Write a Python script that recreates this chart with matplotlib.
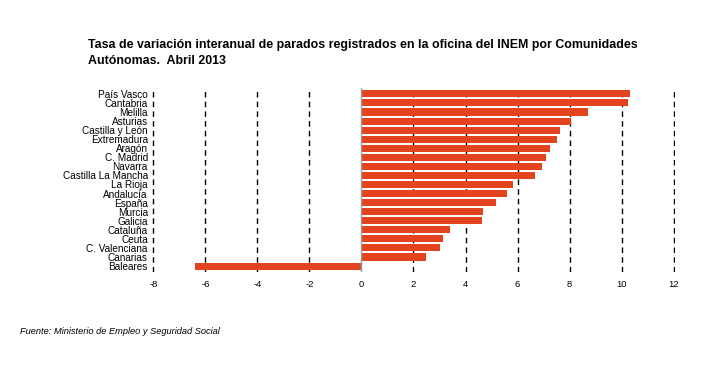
import matplotlib
matplotlib.use("Agg")
import matplotlib.pyplot as plt

plt.rcParams["font.family"] = ["Liberation Sans", "DejaVu Sans"]
plt.rcParams["hatch.color"] = "#F58A3C"
plt.rcParams["hatch.linewidth"] = 0.6

# Datos (tasa de variacion interanual, %)
comunidades = ["País Vasco", "Cantabria", "Melilla", "Asturias", "Castilla y León",
               "Extremadura", "Aragón", "C. Madrid", "Navarra", "Castilla La Mancha",
               "La Rioja", "Andalucía", "España", "Murcia", "Galicia", "Cataluña",
               "Ceuta", "C. Valenciana", "Canarias", "Baleares"]
valores = [10.32, 10.23, 8.70, 8.05, 7.63, 7.52, 7.25, 7.10, 6.94, 6.67,
           5.83, 5.60, 5.18, 4.69, 4.65, 3.39, 3.12, 3.01, 2.47, -6.40]
ticks_x = [-8, -6, -4, -2, 0, 2, 4, 6, 8, 10, 12]

fig = plt.figure(figsize=(7.06, 3.68), dpi=100)
ax = fig.add_axes([0.2153, 0.261, 0.7407, 0.5])

pos = list(range(len(comunidades)))[::-1]

# lineas verticales discontinuas
for t in ticks_x:
    if t == 0:
        ax.axvline(t, color="#999999", lw=1.0, zorder=3)
    else:
        ax.axvline(t, color="black", lw=1.0, ls=(0, (4, 3)), zorder=1)

ax.barh(pos, valores, height=0.78, color="#E3441E", edgecolor="#E3441E",
        hatch="....", lw=0, zorder=2)

ax.set_xlim(-8.05, 12.05)
ax.set_ylim(-0.65, len(comunidades) - 0.35)
ax.set_yticks(pos)
ax.set_yticklabels(comunidades, fontsize=7.2)
ax.set_xticks(ticks_x)
ax.set_xticklabels([str(t) for t in ticks_x], fontsize=6.8)
ax.tick_params(axis="x", length=0, pad=6)
ax.tick_params(axis="y", length=0, pad=3)
for s in ax.spines.values():
    s.set_visible(False)

fig.text(0.1246, 0.877, "Tasa de variación interanual de parados registrados en la oficina del INEM por Comunidades",
         fontsize=8.9, fontweight="bold", va="center")
fig.text(0.1246, 0.834, "Autónomas.  Abril 2013", fontsize=8.9, fontweight="bold", va="center")
fig.text(0.028, 0.098, "Fuente: Ministerio de Empleo y Seguridad Social", fontsize=6.7,
         style="italic", va="center")

fig.savefig("out.png", dpi=100)
